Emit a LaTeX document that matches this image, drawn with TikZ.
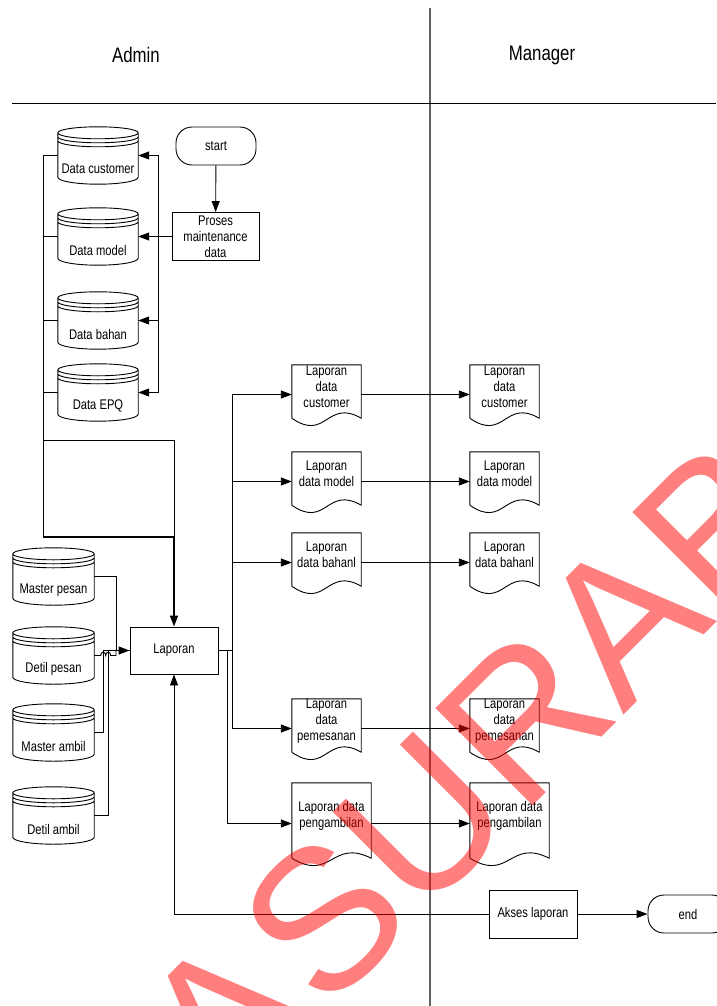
\documentclass[tikz,border=0pt]{standalone}
\usepackage{fontspec}
\setmainfont{Liberation Sans}[FakeStretch=0.8]
\newfontfamily\markfont{Liberation Sans}
\usetikzlibrary{arrows.meta,calc}

\newcommand\bodyfont{\fontsize{14}{16}\selectfont}
\newcommand\titlefont{\fontsize{21}{24}\selectfont}

\tikzset{
  flow/.style={line width=0.9pt, draw=black},
  boldflow/.style={line width=1.6pt, draw=black},
  arr/.style={flow, -{Triangle[length=11pt,width=8pt]}},
  boldarr/.style={boldflow, -{Triangle[length=11pt,width=8pt]}},
  proc/.style={draw, line width=0.9pt, minimum width=88pt, minimum height=48pt,
               inner sep=1pt, align=center, font=\bodyfont},
  term/.style={draw, line width=0.9pt, rounded corners=16pt, minimum width=80pt,
               minimum height=38pt, font=\bodyfont},
  dbbody/.style={minimum width=80pt, minimum height=57pt, inner sep=0pt},
  docbody/.style={minimum width=69pt, minimum height=59pt, inner sep=0pt},
  widedoc/.style={minimum width=79pt, minimum height=81pt, inner sep=0pt},
  lbl/.style={font=\bodyfont, align=center, inner sep=0pt},
  dbtext/.style={lbl, yshift=-13.5pt},
  doctext/.style={lbl, yshift=7.5pt},
  lanetitle/.style={font=\titlefont, inner sep=0pt},
  lane/.style={line width=1.6pt, draw=black!62},
  watermark/.style={font=\markfont\fontsize{200}{200}\selectfont, text=red,
                    text opacity=0.5, inner sep=0pt}
}

% stacked-disk data store drawn round an empty node
\newcommand\dbdraw[1]{%
  \draw[flow] let \p1=(#1.north west), \p2=(#1.south east),
      \n1={(\x2-\x1)/2}, \n2={0.5523*(\x2-\x1)/2} in
    (\x1,\y1-6pt) .. controls (\x1,\y1-2.7pt) and (\x1+\n1-\n2,\y1) .. (\x1+\n1,\y1)
      .. controls (\x1+\n1+\n2,\y1) and (\x2,\y1-2.7pt) .. (\x2,\y1-6pt)
      .. controls (\x2,\y1-9.3pt) and (\x1+\n1+\n2,\y1-12pt) .. (\x1+\n1,\y1-12pt)
      .. controls (\x1+\n1-\n2,\y1-12pt) and (\x1,\y1-9.3pt) .. (\x1,\y1-6pt)
    (\x1,\y1-10pt) .. controls (\x1,\y1-13.3pt) and (\x1+\n1-\n2,\y1-16pt) .. (\x1+\n1,\y1-16pt)
      .. controls (\x1+\n1+\n2,\y1-16pt) and (\x2,\y1-13.3pt) .. (\x2,\y1-10pt)
    (\x1,\y1-14pt) .. controls (\x1,\y1-17.3pt) and (\x1+\n1-\n2,\y1-20pt) .. (\x1+\n1,\y1-20pt)
      .. controls (\x1+\n1+\n2,\y1-20pt) and (\x2,\y1-17.3pt) .. (\x2,\y1-14pt)
    (\x1,\y1-6pt) -- (\x1,\y2+7pt)
      .. controls (\x1,\y2+3.1pt) and (\x1+\n1-\n2,\y2) .. (\x1+\n1,\y2)
      .. controls (\x1+\n1+\n2,\y2) and (\x2,\y2+3.1pt) .. (\x2,\y2+7pt)
      -- (\x2,\y1-6pt);}

% document symbol with a wavy lower edge
\newcommand\docdraw[1]{%
  \draw[flow] let \p1=(#1.north west), \p2=(#1.south east), \n1={\x2-\x1} in
    (\x1,\y2+6pt) -- (\x1,\y1) -- (\x2,\y1) -- (\x2,\y2+6pt)
      .. controls (\x1+0.5*\n1,\y2+26pt) and (\x1+0.5*\n1,\y2-18pt) .. (\x1,\y2+6pt);}

\begin{document}
\begin{tikzpicture}[x=1pt, y=-1pt]
\useasboundingbox (0,0) rectangle (716,1006);

% swimlanes
\node[lanetitle] (admin) at (136,55) {Admin};
\node[lanetitle] (manager) at (542,55) {Manager};
\coordinate (laneTop) at (430,8);
\coordinate (laneBot) at (430,1006);
\coordinate (headL) at (12,103);
\coordinate (headR) at (716,103);
\draw[lane] (laneTop) -- (laneBot);
\draw[flow] (headL) -- (headR);

% start and maintenance
\node[term] (start) at (216,146) {start};
\node[proc, minimum width=87pt] (proses) at (215.5,236.5) {Proses\\maintenance\\data};

% master data stores
\node[dbbody, label={[dbtext]center:Data customer}] (dcust) at (98,155.5) {};
\node[dbbody, label={[dbtext]center:Data model}] (dmodel) at (98,236.5) {};
\node[dbbody, label={[dbtext]center:Data bahan}] (dbahan) at (98,320.5) {};
\node[dbbody, label={[dbtext]center:Data EPQ}] (depq) at (98,392.5) {};
\dbdraw{dcust}\dbdraw{dmodel}\dbdraw{dbahan}\dbdraw{depq}

% transaction data stores
\node[dbbody, minimum width=81pt, label={[dbtext]center:Master pesan}] (mpesan) at (53.5,576.5) {};
\node[dbbody, minimum width=81pt, label={[dbtext]center:Detil pesan}] (dpesan) at (53.5,655.5) {};
\node[dbbody, minimum width=81pt, label={[dbtext]center:Master ambil}] (mambil) at (53.5,732.5) {};
\node[dbbody, minimum width=81pt, label={[dbtext]center:Detil ambil}] (dambil) at (53.5,815.5) {};
\dbdraw{mpesan}\dbdraw{dpesan}\dbdraw{mambil}\dbdraw{dambil}

% processes
\node[proc, minimum height=47pt] (lap) at (174,650.5) {Laporan};
\node[proc] (akses) at (533,914) {Akses laporan};
\node[term] (end) at (688,914) {end};

% reports, admin side
\node[docbody, label={[doctext]center:Laporan\\data\\customer}] (lcust) at (326.5,394.5) {};
\node[docbody, label={[doctext]center:Laporan\\data model}] (lmodel) at (326.5,481.5) {};
\node[docbody, label={[doctext]center:Laporan\\data bahanl}] (lbahan) at (326.5,562.5) {};
\node[docbody, label={[doctext]center:Laporan\\data\\pemesanan}] (lpesan) at (326.5,728.5) {};
\node[widedoc, label={[doctext]center:Laporan data\\pengambilan}] (lambil) at (331.5,823.5) {};
\docdraw{lcust}\docdraw{lmodel}\docdraw{lbahan}\docdraw{lpesan}\docdraw{lambil}

% reports, manager side
\node[docbody, label={[doctext]center:Laporan\\data\\customer}] (rcust) at (504.5,394.5) {};
\node[docbody, label={[doctext]center:Laporan\\data model}] (rmodel) at (504.5,481.5) {};
\node[docbody, label={[doctext]center:Laporan\\data bahanl}] (rbahan) at (504.5,562.5) {};
\node[docbody, label={[doctext]center:Laporan\\data\\pemesanan}] (rpesan) at (504.5,728.5) {};
\node[widedoc, label={[doctext]center:Laporan data\\pengambilan}] (rambil) at (509.5,823.5) {};
\docdraw{rcust}\docdraw{rmodel}\docdraw{rbahan}\docdraw{rpesan}\docdraw{rambil}

% maintenance updates the master stores
\coordinate (rbus) at (158,236.5);
\draw[arr] (start) -- (proses);
\draw[boldflow] (proses.west) -- (rbus);
\draw[arr] (rbus) |- (dcust.east);
\draw[arr] (rbus) -- (dmodel.east);
\draw[arr] (rbus) |- (dbahan.east);
\draw[arr] (rbus) |- (depq.east);

% master stores feed the report process
\coordinate (lbus) at (43,537);
\coordinate (lmid) at (43,440);
\draw[flow] (dcust.west) -| (lbus);
\draw[flow] (dmodel.west) -- (dmodel.west -| lbus);
\draw[flow] (dbahan.west) -- (dbahan.west -| lbus);
\draw[flow] (depq.west) -- (depq.west -| lbus);
\draw[flow] (lmid) -| (lbus -| lap.north);
\draw[boldarr] (lbus) -| (lap.north);

% transaction stores feed the report process
\coordinate (join) at (116,650.5);
\draw[arr] (mpesan.east) -| (join) -- (lap.west);
\draw[flow] (mambil.east) -- ++(9,0) |- (lap.west);
\draw[flow] (dambil.east) -- ++(14,0) |- (lap.west);
\draw[flow] (dpesan.east) -- ++(6.5,0)
  .. controls +(0,-4.5) and +(0,-4.5) .. ++(5,0)
  .. controls +(0,-4.5) and +(0,-4.5) .. ++(5,0) -| (join);

% report outputs
\coordinate (obusA) at (232,650.5);
\coordinate (obusB) at (227,650.5);
\draw[flow] (lap.east) -- (obusA);
\draw[arr] (obusA) |- (lcust.west);
\draw[arr] (obusA) |- (lmodel.west);
\draw[arr] (obusA) |- (lbahan.west);
\draw[arr] (obusA) |- (lpesan.west);
\draw[arr] (obusB) |- (lambil.west);

% reports handed to the manager
\draw[arr] (lcust.east) -- (rcust.west);
\draw[arr] (lmodel.east) -- (rmodel.west);
\draw[arr] (lbahan.east) -- (rbahan.west);
\draw[arr] (lpesan.east) -- (rpesan.west);
\draw[arr] (lambil.east) -- (rambil.west);

% report access
\draw[arr] (akses.west) -| (lap.south);
\draw[arr] (akses.east) -- (end.west);

% watermark
\begin{scope}
  \clip (0,0) rectangle (716,1006);
  \node[watermark, anchor=base west, rotate=45] (wm) at (225.5,1114.1) {A\kern-48pt\ SURAB};
\end{scope}
\end{tikzpicture}
\end{document}
